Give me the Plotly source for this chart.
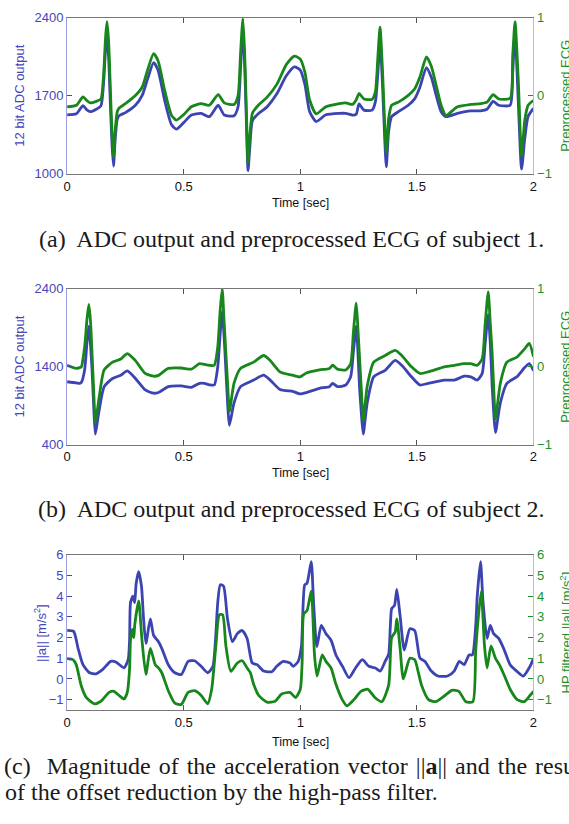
import plotly.graph_objects as go

# ---------------- (a) subject 1 ----------------
t_a = [0.0, 0.04, 0.068, 0.085, 0.099, 0.125, 0.145, 0.156, 0.165, 0.171, 0.178, 0.186, 0.193, 0.199, 0.206,
       0.214, 0.222, 0.25, 0.293, 0.322, 0.345, 0.371, 0.39, 0.42, 0.448, 0.469, 0.50, 0.533, 0.575, 0.61,
       0.648, 0.674, 0.716, 0.733, 0.744, 0.754, 0.762, 0.769, 0.776, 0.784, 0.795, 0.82, 0.857, 0.90, 0.94,
       0.975, 1.0, 1.02, 1.04, 1.068, 1.11, 1.167, 1.195, 1.224, 1.24, 1.252, 1.273, 1.308, 1.322, 1.333,
       1.342, 1.353, 1.362, 1.369, 1.379, 1.392, 1.421, 1.463, 1.491, 1.513, 1.541, 1.562, 1.583, 1.604,
       1.625, 1.674, 1.731, 1.773, 1.801, 1.827, 1.851, 1.9, 1.911, 1.921, 1.935, 1.949, 1.963, 1.977, 2.0]
adc_a = [1530, 1540, 1612, 1575, 1558, 1580, 1610, 1800, 2120, 2235, 2050, 1600, 1250, 1070, 1300,
         1480, 1520, 1550, 1616, 1704, 1850, 1998, 1930, 1645, 1440, 1402, 1460, 1528, 1543, 1513,
         1616, 1528, 1522, 1600, 1950, 2300, 1950, 1450, 1030, 1250, 1480, 1540, 1600, 1720, 1880,
         1960, 1930, 1800, 1560, 1470, 1530, 1543, 1543, 1528, 1535, 1628, 1572, 1572, 1646, 1910,
         2203, 1780, 1323, 1064, 1382, 1514, 1558, 1616, 1675, 1778, 1954, 1866, 1704, 1558,
         1514, 1543, 1565, 1565, 1580, 1650, 1616, 1616, 1910, 2262, 1650, 1044, 1323, 1514, 1587]
ecg_a = [-0.14, -0.12, -0.015, -0.06, -0.09, -0.07, -0.04, 0.25, 0.75, 0.95, 0.7, 0.05, -0.5, -0.79, -0.45,
         -0.22, -0.16, -0.1, 0.005, 0.11, 0.33, 0.54, 0.45, 0.05, -0.25, -0.31, -0.24, -0.14, -0.10, -0.12,
         0.015, -0.09, -0.11, 0.0, 0.55, 0.99, 0.5, -0.2, -0.85, -0.5, -0.22, -0.12, -0.02, 0.15, 0.40,
         0.51, 0.47, 0.3, -0.05, -0.23, -0.14, -0.10, -0.09, -0.11, -0.05, 0.03, -0.04, -0.045, 0.05, 0.51,
         0.88, 0.3, -0.36, -0.73, -0.29, -0.12, -0.08, 0.006, 0.09, 0.24, 0.50, 0.38, 0.13, -0.12,
         -0.25, -0.14, -0.11, -0.10, -0.08, 0.015, -0.04, -0.03, 0.51, 0.95, 0.2, -0.77, -0.31, -0.12, -0.06]

# ---------------- (b) subject 2 ----------------
t_b = [0.0, 0.039, 0.054, 0.061, 0.075, 0.085, 0.093, 0.1, 0.107, 0.114, 0.121, 0.13, 0.138, 0.159, 0.195,
       0.23, 0.258, 0.293, 0.335, 0.371, 0.392, 0.434, 0.49, 0.533, 0.568, 0.589, 0.61, 0.631, 0.646, 0.656,
       0.665, 0.673, 0.681, 0.689, 0.696, 0.716, 0.744, 0.8, 0.843, 0.871, 0.913, 0.970, 0.998, 1.026, 1.082,
       1.125, 1.139, 1.16, 1.195, 1.216, 1.228, 1.24, 1.247, 1.254, 1.262, 1.27, 1.287, 1.315, 1.364, 1.407,
       1.435, 1.477, 1.513, 1.548, 1.618, 1.661, 1.703, 1.731, 1.759, 1.78, 1.793, 1.806, 1.815, 1.823, 1.83,
       1.837, 1.858, 1.886, 1.929, 1.962, 1.982, 2.0]
adc_b = [1209, 1195, 1188, 1200, 1356, 1700, 1922, 1700, 1356, 900, 538, 700, 853, 1146, 1251,
         1293, 1347, 1251, 1104, 1062, 1071, 1146, 1155, 1138, 1188, 1188, 1170, 1167, 1398, 1800,
         2111, 1800, 1356, 900, 651, 937, 1146, 1230, 1293, 1230, 1110, 1083, 1054, 1070, 1125,
         1146, 1188, 1146, 1167, 1272, 1600, 1922, 1600, 1146, 800, 538, 937, 1272, 1356, 1482,
         1419, 1272, 1167, 1188, 1230, 1230, 1280, 1272, 1230, 1314, 1700, 2069, 1700, 1146, 800,
         559, 937, 1188, 1272, 1390, 1440, 1350]
ecg_b = [0.02, -0.02, -0.01, 0.0, 0.25, 0.6, 0.80, 0.6, 0.17, -0.3, -0.71, -0.55, -0.38, -0.04, 0.06,
         0.10, 0.17, 0.08, -0.085, -0.12, -0.11, -0.02, -0.015, -0.03, 0.04, 0.03, 0.02, 0.02, 0.25, 0.7,
         1.0, 0.6, 0.17, -0.25, -0.57, -0.21, -0.02, 0.06, 0.145, 0.08, -0.065, -0.11, -0.13, -0.08, -0.04,
         -0.02, 0.02, -0.03, -0.04, 0.04, 0.45, 0.815, 0.5, 0.125, -0.3, -0.69, -0.25, 0.06, 0.145, 0.21,
         0.145, 0.0, -0.085, -0.065, 0.0, 0.02, 0.04, 0.04, 0.02, 0.10, 0.55, 0.96, 0.55, 0.17, -0.3,
         -0.67, -0.21, 0.06, 0.125, 0.23, 0.30, 0.13]

# ---------------- (c) acceleration ----------------
t_acc = [0.0, 0.028, 0.047, 0.068, 0.096, 0.124, 0.152, 0.187, 0.209, 0.244, 0.262, 0.268, 0.272, 0.282, 0.29,
         0.296, 0.307, 0.319, 0.328, 0.338, 0.357, 0.371, 0.392, 0.406, 0.434, 0.462, 0.49, 0.519, 0.547,
         0.575, 0.603, 0.625, 0.637, 0.646, 0.657, 0.671, 0.688, 0.709, 0.73, 0.751, 0.772, 0.794, 0.815,
         0.843, 0.878, 0.899, 0.927, 0.956, 0.970, 0.991, 1.005, 1.019, 1.029, 1.047, 1.057, 1.071, 1.09,
         1.11, 1.132, 1.153, 1.181, 1.209, 1.237, 1.266, 1.294, 1.322, 1.343, 1.364, 1.379, 1.386, 1.392,
         1.404, 1.414, 1.428, 1.446, 1.47, 1.491, 1.513, 1.534, 1.562, 1.59, 1.632, 1.66, 1.682, 1.703,
         1.724, 1.738, 1.752, 1.759, 1.773, 1.784, 1.801, 1.815, 1.829, 1.851, 1.872, 1.9, 1.928, 1.956,
         1.985, 2.0]
acc = [2.35, 2.3, 1.48, 0.69, 0.30, 0.25, 0.45, 0.85, 0.82, 0.54, 0.94, 1.9, 3.69, 4.0, 3.69,
       4.6, 5.19, 4.48, 2.9, 1.72, 2.9, 2.11, 1.8, 1.48, 0.69, 0.3, 0.22, 0.85, 0.88,
       0.61, 0.3, 0.6, 2.0, 3.69, 4.56, 4.48, 2.9, 1.8, 2.19, 2.34, 1.96, 0.77, 0.69,
       0.38, 0.35, 0.61, 0.85, 0.77, 0.61, 0.85, 1.6, 4.55, 4.63, 5.67, 3.69, 1.56, 2.59,
       2.19, 1.87, 1.16, 0.61, 0.06, 0.53, 0.93, 0.61, 0.53, 0.38, 0.85, 1.2, 2.5, 3.4,
       3.55, 4.33, 3.07, 1.4, 2.43, 2.34, 1.01, 0.85, 0.38, 0.14, 0.14, 0.38, 0.85, 0.69,
       1.16, 1.16, 2.5, 4.0, 5.67, 3.69, 1.96, 2.59, 2.19, 1.96, 1.48, 0.69, 0.38, 0.14,
       0.6, 1.0]

t_hp = [0.0, 0.025, 0.039, 0.061, 0.082, 0.117, 0.145, 0.18, 0.201, 0.223, 0.244, 0.258, 0.268, 0.272, 0.28,
        0.286, 0.29, 0.307, 0.321, 0.338, 0.357, 0.378, 0.392, 0.406, 0.434, 0.462, 0.49, 0.519, 0.547, 0.575,
        0.603, 0.62, 0.638, 0.653, 0.667, 0.681, 0.702, 0.73, 0.751, 0.772, 0.786, 0.80, 0.822, 0.857, 0.892,
        0.92, 0.956, 0.98, 1.0, 1.008, 1.015, 1.029, 1.047, 1.061, 1.072, 1.094, 1.11, 1.132, 1.153, 1.18,
        1.2, 1.23, 1.26, 1.29, 1.32, 1.35, 1.379, 1.392, 1.407, 1.414, 1.428, 1.442, 1.47, 1.491, 1.505,
        1.52, 1.55, 1.58, 1.62, 1.65, 1.68, 1.71, 1.74, 1.752, 1.759, 1.776, 1.79, 1.801, 1.818, 1.837,
        1.858, 1.879, 1.9, 1.93, 1.96, 1.985, 2.0]
hp = [0.98, 0.93, 0.69, -0.34, -0.89, -1.2, -1.08, -0.65, -0.6, -0.8, -0.97, -0.65, 0.5, 1.9, 2.4,
      2.0, 2.6, 3.77, 1.9, 0.22, 1.48, 0.69, 0.53, 0.3, -0.57, -1.17, -1.23, -0.65, -0.57, -0.8,
      -1.2, -0.5, 1.6, 3.1, 3.1, 1.6, 0.37, 0.77, 0.88, 0.53, 0.3, -0.26, -0.8, -1.12, -1.08,
      -0.73, -0.65, -0.9, -0.5, 0.8, 3.15, 3.3, 4.25, 1.16, 0.14, 1.16, 0.85, 0.53, -0.26, -1.0,
      -1.3, -1.0, -0.6, -0.5, -0.9, -1.1, -0.3, 2.0, 2.27, 2.9, 1.5, 0.0, 1.0, 0.93, 0.38,
      -0.3, -1.0, -1.1, -0.8, -0.55, -0.6, -1.1, -1.1, 1.3, 2.4, 4.25, 1.6, 0.53, 1.6, 1.0,
      0.6, 0.06, -0.5, -1.0, -1.1, -0.8, -0.6]

x_ticks = [0, 0.5, 1, 1.5, 2]
x_ticktext = ["0", "0.5", "1", "1.5", "2"]

BLUE = "#3c44b2"
GREEN = "#17861b"
BLUE_TXT = "#4646bb"
GREEN_TXT = "#22902a"
FONT = "Liberation Sans, Arial, Helvetica, sans-serif"
SERIF = "Liberation Serif, Times New Roman, serif"
W, H = 569, 824
TICK = 13

fig = go.Figure()
LW = 2.8

def line(c):
    return dict(color=c, width=LW, shape="spline", smoothing=0.6)

fig.add_trace(go.Scatter(x=t_a, y=adc_a, mode="lines", line=line(BLUE), xaxis="x", yaxis="y"))
fig.add_trace(go.Scatter(x=t_a, y=ecg_a, mode="lines", line=line(GREEN), xaxis="x", yaxis="y2"))
fig.add_trace(go.Scatter(x=t_b, y=adc_b, mode="lines", line=line(BLUE), xaxis="x2", yaxis="y3"))
fig.add_trace(go.Scatter(x=t_b, y=ecg_b, mode="lines", line=line(GREEN), xaxis="x2", yaxis="y4"))
fig.add_trace(go.Scatter(x=t_acc, y=acc, mode="lines", line=line(BLUE), xaxis="x3", yaxis="y5"))
fig.add_trace(go.Scatter(x=t_hp, y=hp, mode="lines", line=line(GREEN), xaxis="x3", yaxis="y6"))

x0, x1 = 64 / W, 537 / W
panels = [(11, 170), (287, 446), (558, 716)]
doms = [[1 - b / H, 1 - t / H] for t, b in panels]

def xax(anchor):
    return dict(domain=[x0, x1], range=[0, 2], tickvals=x_ticks, ticktext=x_ticktext, ticks="inside",
                ticklen=5, tickcolor="#555", showline=True, linecolor="#777", linewidth=1, mirror="ticks",
                showgrid=False, zeroline=False, anchor=anchor,
                tickfont=dict(family=FONT, size=TICK, color="#111"))

def yleft(dom, rng, vals, anchor):
    return dict(domain=dom, range=rng, tickvals=vals, ticks="inside", ticklen=5, tickcolor=BLUE_TXT,
                showline=True, linecolor="#9c9ce0", linewidth=1, showgrid=False, zeroline=False,
                anchor=anchor, tickfont=dict(family=FONT, size=TICK, color=BLUE_TXT))

def yright(over, rng, vals, anchor):
    return dict(overlaying=over, side="right", range=rng, tickvals=vals, ticks="inside", ticklen=5,
                tickcolor=GREEN_TXT, showline=True, linecolor="#9ed69e", linewidth=1, showgrid=False,
                zeroline=False, anchor=anchor, tickfont=dict(family=FONT, size=TICK, color=GREEN_TXT))

fig.update_layout(
    xaxis=xax("y"), xaxis2=xax("y3"), xaxis3=xax("y5"),
    yaxis=yleft(doms[0], [1000, 2400], [1000, 1700, 2400], "x"),
    yaxis2=yright("y", [-1, 1], [-1, 0, 1], "x"),
    yaxis3=yleft(doms[1], [400, 2400], [400, 1400, 2400], "x2"),
    yaxis4=yright("y3", [-1, 1], [-1, 0, 1], "x2"),
    yaxis5=yleft(doms[2], [-1.5, 6], [-1, 0, 1, 2, 3, 4, 5, 6], "x3"),
    yaxis6=yright("y5", [-1.5, 6], [-1, 0, 1, 2, 3, 4, 5, 6], "x3"),
    width=W, height=H, margin=dict(l=0, r=0, t=0, b=0),
    paper_bgcolor="white", plot_bgcolor="white", showlegend=False,
)

ann = []
def px(x):
    return x / W
def py(y):
    return 1 - y / H

def A(**kw):
    d = dict(xref="paper", yref="paper", showarrow=False, xanchor="center", yanchor="middle")
    d.update(kw)
    ann.append(d)

xc = px((64 + 537) / 2)
for yy in (200, 475, 749):
    A(x=xc, y=py(yy), text="Time [sec]", font=dict(family=FONT, size=12.5, color="#111"))
for (tp, bt), txt, xl in zip(panels, ["12 bit ADC output", "12 bit ADC output", "||a|| [m/s<sup>2</sup>]"],
                             [16, 16, 37]):
    A(x=px(xl), y=py((tp + bt) / 2), text=txt, textangle=-90,
      font=dict(family=FONT, size=13, color=BLUE_TXT))
for (tp, bt), txt in zip(panels, ["Preprocessed ECG", "Preprocessed ECG", "HP filtered ||a|| [m/s<sup>2</sup>]"]):
    A(x=px(570), y=py((tp + bt) / 2), text=txt, textangle=-90,
      font=dict(family=FONT, size=13, color=GREEN_TXT))

CAP = dict(family=SERIF, size=24, color="#1a1a1a")
A(x=px(292), y=py(236), text="(a)  ADC output and preprocessed ECG of subject 1.", font=CAP)
A(x=px(292), y=py(511), text="(b)  ADC output and preprocessed ECG of subject 2.", font=CAP)
cap_c1 = "(c)  Magnitude of the acceleration vector ||<b>a</b>|| and the result".replace(" ", "\u00a0\u200a")
A(x=px(-2), y=py(773), text=cap_c1, xanchor="left", font=CAP)
A(x=px(-1), y=py(800), text="of the offset reduction by the high-pass filter.", xanchor="left", font=CAP)
fig.update_layout(annotations=ann)

fig.write_html("out.html")
